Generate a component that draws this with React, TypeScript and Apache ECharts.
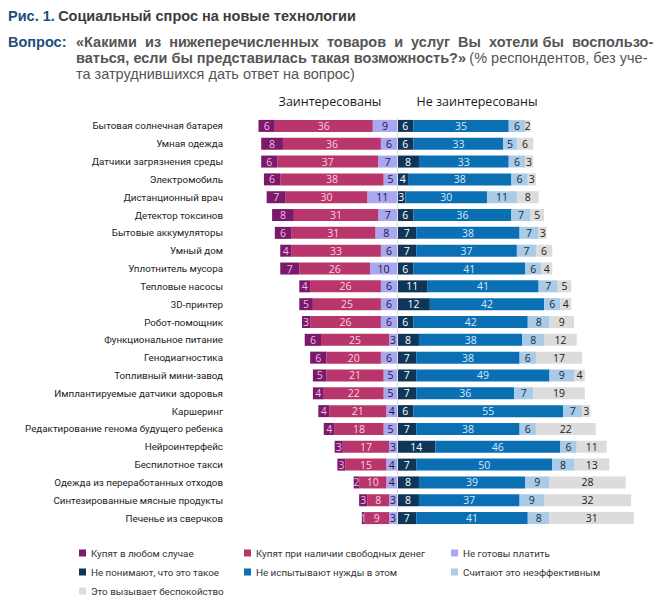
import React, { useEffect, useRef } from "react";
import * as echarts from "echarts";

const categories = [
  "Бытовая солнечная батарея",
  "Умная одежда",
  "Датчики загрязнения среды",
  "Электромобиль",
  "Дистанционный врач",
  "Детектор токсинов",
  "Бытовые аккумуляторы",
  "Умный дом",
  "Уплотнитель мусора",
  "Тепловые насосы",
  "3D-принтер",
  "Робот-помощник",
  "Функциональное питание",
  "Генодиагностика",
  "Топливный мини-завод",
  "Имплантируемые датчики здоровья",
  "Каршеринг",
  "Редактирование генома будущего ребенка",
  "Нейроинтерфейс",
  "Беспилотное такси",
  "Одежда из переработанных отходов",
  "Синтезированные мясные продукты",
  "Печенье из сверчков",
];

const buyAnyway = [6, 8, 6, 6, 7, 8, 6, 4, 7, 4, 5, 3, 6, 6, 5, 4, 4, 4, 3, 3, 2, 3, 1];
const buyIfMoney = [36, 36, 37, 38, 30, 31, 31, 33, 26, 26, 25, 26, 25, 20, 21, 22, 21, 18, 17, 15, 10, 8, 9];
const notReadyPay = [9, 6, 7, 5, 11, 7, 8, 6, 10, 6, 6, 6, 3, 6, 5, 5, 4, 5, 3, 4, 4, 3, 3];
const dontUnderstand = [6, 6, 8, 4, 3, 6, 7, 7, 6, 11, 12, 6, 8, 7, 7, 7, 6, 7, 14, 7, 8, 8, 7];
const noNeed = [35, 33, 33, 38, 30, 36, 38, 37, 41, 41, 42, 42, 38, 38, 49, 36, 55, 38, 46, 50, 39, 37, 41];
const ineffective = [6, 5, 6, 6, 11, 7, 7, 7, 6, 7, 6, 8, 8, 6, 9, 7, 7, 6, 6, 8, 9, 9, 8];
const concern = [2, 6, 3, 3, 8, 5, 3, 6, 4, 5, 4, 9, 12, 17, 4, 19, 3, 22, 11, 13, 28, 32, 31];

const seriesNames = [
  "Купят в любом случае",
  "Купят при наличии свободных денег",
  "Не готовы платить",
  "Не понимают, что это такое",
  "Не испытывают нужды в этом",
  "Считают это неэффективным",
  "Это вызывает беспокойство",
];

const headerLeft = "Заинтересованы";
const headerRight = "Не заинтересованы";

const FONT = "'Open Sans', 'Noto Sans', sans-serif";
const LBL = "Roboto, 'Open Sans', sans-serif";
const NARROW = "'Liberation Sans Narrow', 'Arial Narrow', 'Liberation Sans', sans-serif";

export default function App() {
  const ref = useRef<HTMLDivElement>(null);

  useEffect(() => {
    document.body.style.margin = "0";
    if (!ref.current) return;
    const chart = echarts.init(ref.current, null, { renderer: "svg" });

    const mk = (
      name: string,
      values: number[],
      sign: number,
      color: string,
      textColor: string,
      withMark = false
    ) => {
      const s: any = {
        name,
        type: "bar",
        stack: "total",
        barWidth: 12,
        data: values.map((v) => v * sign),
        itemStyle: { color },
        label: {
          show: true,
          position: "inside",
          formatter: (p: any) => String(Math.abs(p.value)),
          color: textColor,
          fontSize: 10.5,
          fontFamily: FONT,
        },
        emphasis: { disabled: true },
      };
      if (withMark) {
        s.markLine = {
          silent: true,
          symbol: ["none", "none"],
          label: { show: false },
          lineStyle: { color: "#dedede", width: 1, type: "solid" },
          data: [{ xAxis: 0 }],
        };
      }
      return s;
    };

    const colors = ["#7b1a6b", "#b8366b", "#aaa6ef", "#0f3557", "#0b6fb4", "#a9cbe7", "#dcdcdc"];

    const legendBase = {
      orient: "vertical",
      top: 543,
      itemWidth: 7,
      itemHeight: 7,
      itemGap: 9,
      icon: "rect",
      textStyle: { fontSize: 9.8, color: "#333", fontFamily: LBL },
      selectedMode: false,
    };

    const option: any = {
      animation: false,
      grid: { left: 234, right: 15, top: 117, height: 410, containLabel: false },
      xAxis: {
        type: "value",
        min: -60,
        max: 90,
        show: false,
      },
      yAxis: {
        type: "category",
        inverse: true,
        data: categories,
        axisLine: { show: false },
        axisTick: { show: false },
        axisLabel: { margin: 11, color: "#222", fontSize: 9.8, fontFamily: LBL },
      },
      legend: [
        { ...legendBase, left: 74, data: [seriesNames[0], seriesNames[3], seriesNames[6]] },
        { ...legendBase, left: 239, data: [seriesNames[1], seriesNames[4]] },
        { ...legendBase, left: 446, data: [seriesNames[2], seriesNames[5]] },
      ],
      series: [
        mk(seriesNames[2], notReadyPay, -1, colors[2], "#1a1a3a", true),
        mk(seriesNames[1], buyIfMoney, -1, colors[1], "#f6d2e0"),
        mk(seriesNames[0], buyAnyway, -1, colors[0], "#f2b8e0"),
        mk(seriesNames[3], dontUnderstand, 1, colors[3], "#ffffff"),
        mk(seriesNames[4], noNeed, 1, colors[4], "#d4eaf8"),
        mk(seriesNames[5], ineffective, 1, colors[5], "#1a2a3a"),
        mk(seriesNames[6], concern, 1, colors[6], "#222222"),
      ],
      graphic: [
        {
          type: "text",
          left: 8,
          top: 8,
          style: {
            text: "{b|Рис. 1.} {g|Социальный спрос на новые технологии}",
            rich: {
              b: { fontFamily: NARROW, fontWeight: "bold", fontSize: 14.5, fill: "#1f4e7a" },
              g: { fontFamily: NARROW, fontWeight: "bold", fontSize: 14.5, fill: "#3c3c3c" },
            },
          },
        },
        {
          type: "text",
          left: 8,
          top: 34,
          style: {
            text: "Вопрос:",
            fontFamily: NARROW,
            fontWeight: "bold",
            fontSize: 14.5,
            fill: "#1f4e7a",
          },
        },
        {
          type: "text",
          left: 76,
          top: 34,
          style: {
            text: "«Какими  из  нижеперечисленных  товаров  и  услуг  Вы  хотели бы  воспользо-",
            fontFamily: NARROW,
            fontWeight: "bold",
            fontSize: 14.5,
            fill: "#555555",
          },
        },
        {
          type: "text",
          left: 76,
          top: 50,
          style: {
            text: "{b|ваться, если бы представилась такая возможность?»} {n|(% респондентов, без уче-}",
            rich: {
              b: { fontFamily: NARROW, fontWeight: "bold", fontSize: 14.5, fill: "#555555" },
              n: { fontFamily: NARROW, fontSize: 14.5, fill: "#555555" },
            },
          },
        },
        {
          type: "text",
          left: 76,
          top: 66,
          style: {
            text: "та затруднившихся дать ответ на вопрос)",
            fontFamily: NARROW,
            fontSize: 14.5,
            fill: "#555555",
          },
        },
        {
          type: "text",
          x: 330,
          y: 101,
          style: {
            text: headerLeft,
            fontFamily: FONT,
            fontSize: 12.5,
            fill: "#1a1a1a",
            align: "center",
            verticalAlign: "middle",
          },
        },
        {
          type: "text",
          x: 477,
          y: 101,
          style: {
            text: headerRight,
            fontFamily: FONT,
            fontSize: 12.5,
            fill: "#1a1a1a",
            align: "center",
            verticalAlign: "middle",
          },
        },
      ],
    };

    chart.setOption(option);
    return () => chart.dispose();
  }, []);

  return <div ref={ref} style={{ width: 657, height: 610 }} />;
}
